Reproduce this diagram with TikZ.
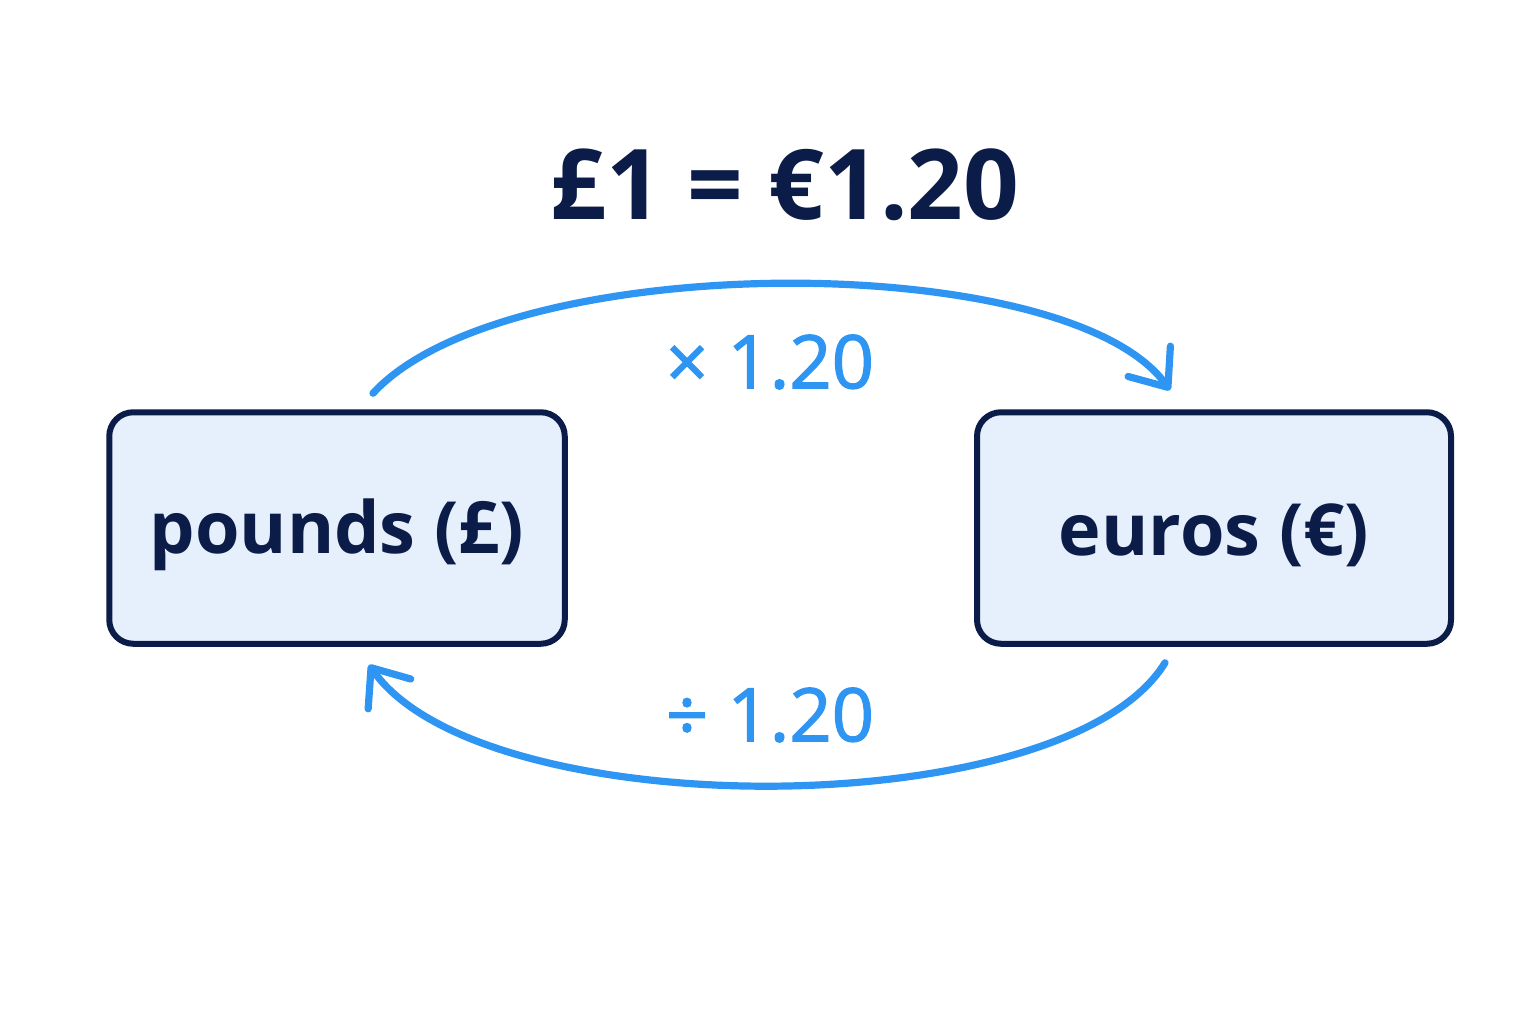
\documentclass[tikz,border=0pt]{standalone}
\usepackage{fontspec}
\setmainfont{Open Sans}
\newfontfamily\medfont{Open Sans}[FakeBold=1.6]
\usetikzlibrary{arrows.meta}
\definecolor{navy}{HTML}{0C1C48}
\definecolor{boxfill}{HTML}{E6F0FC}
\definecolor{arrowblue}{HTML}{2E96F2}
\tikzset{
  currencybox/.style={draw=navy, line width=3pt, fill=boxfill, rounded corners=12pt, inner sep=0pt},
  boxlabel/.style={text=navy, font=\bfseries\fontsize{36}{40}\selectfont},
  flow/.style={draw=arrowblue, line width=3.6pt, line cap=round, -{Straight Barb[length=16pt, width=26pt, round]}},
  ratelabel/.style={text=arrowblue, font=\medfont\fontsize{37}{40}\selectfont},
}
\begin{document}
\begin{tikzpicture}[x=0.5pt, y=-0.5pt]
\useasboundingbox[fill=white] (0,0) rectangle (1536,1024);
\node[text=navy, font=\bfseries\fontsize{48.8}{56}\selectfont] (title) at (785,185) {£1 = €1.20};
\node[currencybox, minimum width=227.75pt, minimum height=115.75pt] (L) at (337,528) {};
\node[currencybox, minimum width=237pt, minimum height=115.75pt] (R) at (1214,528) {};
\node[boxlabel] (Lt) at ([yshift=-3.5pt]L.center) {pounds (£)};
\node[boxlabel] (Rt) at ([yshift=-3.5pt]R.center) {euros (€)};
\draw[flow] ([xshift=18pt,yshift=8pt]L.north) .. controls (507,248) and (1068,248) .. ([xshift=-22pt,yshift=9.5pt]R.north);
\draw[flow] ([xshift=-24.5pt,yshift=-8pt]R.south) .. controls (1065,826) and (482,826) .. ([xshift=16pt,yshift=-9pt]L.south);
\node[ratelabel] (mul) at (770,362) {× 1.20};
\node[ratelabel] (div) at (770,715) {÷ 1.20};
\end{tikzpicture}
\end{document}
